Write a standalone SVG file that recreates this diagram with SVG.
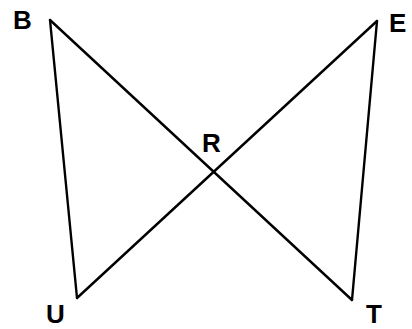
<svg xmlns="http://www.w3.org/2000/svg" width="412" height="329" viewBox="0 0 412 329">
<style>
.lbl{font-family:"Liberation Sans",Arial,sans-serif;font-size:26px;font-weight:bold;fill:#000;}
.seg{stroke:#000;stroke-width:2.4;fill:none;stroke-linecap:round;}
</style>
<rect width="412" height="329" fill="#fff"/>
<g id="connectors">
<line class="seg" x1="50" y1="20" x2="352" y2="300"/>
<line class="seg" x1="377" y1="21" x2="77" y2="298"/>
<line class="seg" x1="50" y1="20" x2="77" y2="298"/>
<line class="seg" x1="377" y1="21" x2="352" y2="300"/>
</g>
<g id="B"><text class="lbl" x="13" y="29">B</text></g>
<g id="E"><text class="lbl" x="389" y="32">E</text></g>
<g id="U"><text class="lbl" x="46" y="323">U</text></g>
<g id="T"><text class="lbl" x="366" y="323">T</text></g>
<g id="R"><text class="lbl" x="202" y="152">R</text></g>
</svg>
